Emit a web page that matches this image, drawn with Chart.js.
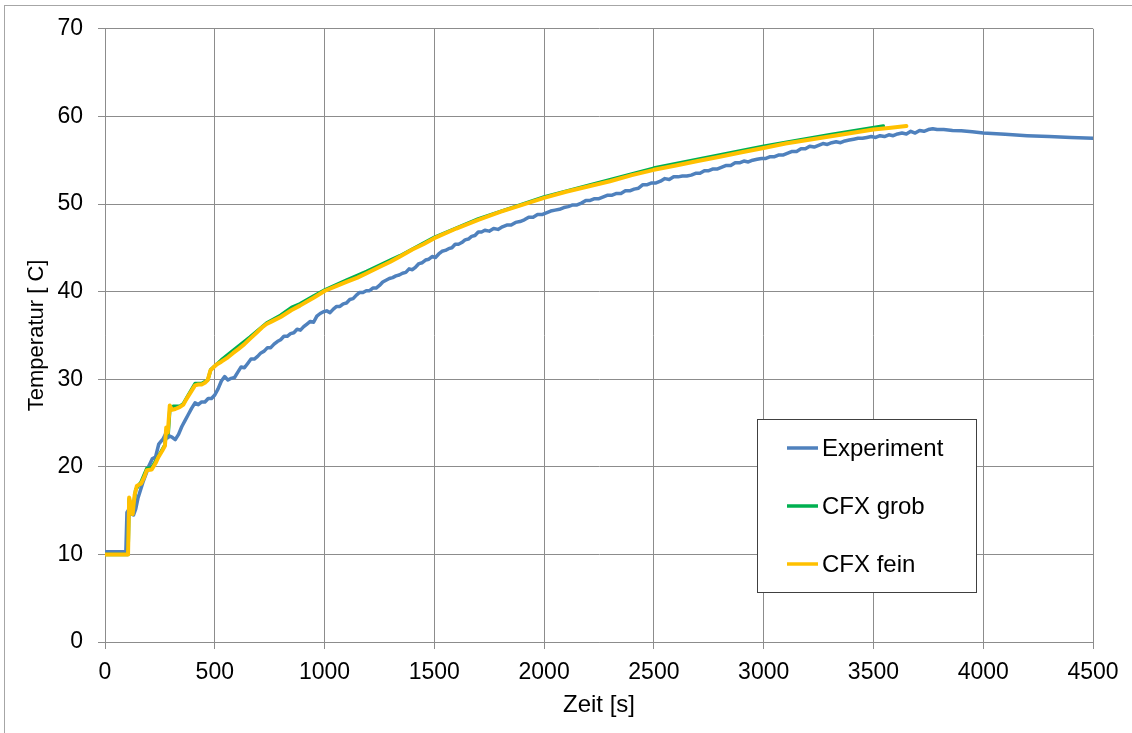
<!DOCTYPE html>
<html>
<head>
<meta charset="utf-8">
<title>Temperaturverlauf</title>
<script src="https://cdn.jsdelivr.net/npm/chart.js@4.4.1/dist/chart.umd.min.js"></script>
<style>
  html, body { margin: 0; padding: 0; background: #fff; overflow: hidden; }
  #frame {
    position: absolute; left: 4px; top: 5px;
    width: 1200px; height: 800px;
    border: 1px solid #a6a6a6;
  }
  #wrap { position: absolute; left: 0; top: 0; width: 1132px; height: 733px; }
</style>
</head>
<body>
<div id="frame"></div>
<div id="wrap"><canvas id="tempChart" width="1132" height="733"></canvas></div>
<script>
// Messung (Thermoelement)
const expTime = [0, 95, 100, 110, 120, 130, 140, 150, 160, 175, 190, 200, 215, 230, 245, 255, 265, 275, 285, 295,
  305, 320, 335, 350, 365, 380, 395, 410, 425, 440, 455, 470, 485, 500, 515, 530, 545, 560, 575, 590,
  605, 620, 635, 650, 665, 680, 695, 710, 725, 740, 755, 770, 785, 800, 815, 830, 845, 860, 875, 890,
  905, 920, 935, 950, 965, 980, 995, 1010, 1025, 1040, 1055, 1070, 1085, 1100, 1115, 1130, 1145, 1160, 1175, 1190,
  1205, 1220, 1235, 1250, 1265, 1280, 1295, 1310, 1325, 1340, 1355, 1370, 1385, 1400, 1415, 1430, 1445, 1460, 1475, 1490,
  1505, 1520, 1535, 1550, 1565, 1580, 1595, 1610, 1625, 1640, 1655, 1670, 1685, 1700, 1715, 1730, 1750, 1770, 1790, 1810,
  1830, 1850, 1870, 1890, 1910, 1930, 1950, 1970, 1990, 2010, 2030, 2050, 2070, 2090, 2110, 2130, 2150, 2170, 2190, 2210,
  2230, 2250, 2270, 2290, 2310, 2330, 2350, 2370, 2390, 2410, 2430, 2450, 2470, 2490, 2510, 2530, 2550, 2570, 2590, 2610,
  2630, 2650, 2670, 2690, 2710, 2730, 2750, 2770, 2790, 2810, 2830, 2850, 2870, 2890, 2910, 2930, 2950, 2970, 2990, 3010,
  3030, 3050, 3070, 3090, 3110, 3130, 3150, 3170, 3190, 3210, 3230, 3250, 3270, 3290, 3310, 3330, 3350, 3370, 3390, 3410,
  3430, 3450, 3470, 3490, 3510, 3530, 3550, 3570, 3590, 3610, 3630, 3650, 3670, 3690, 3710, 3730, 3750, 3770, 3790, 3820,
  3860, 3900, 3950, 4000, 4100, 4200, 4300, 4400, 4500];
const expTemp = [10.3, 10.3, 14.8, 15.2, 14.6, 14.5, 15.2, 16.4, 17.2, 18.4, 19.4, 20.1, 20.9, 21.1, 22.6, 22.9, 23.2, 23.7, 23.3, 23.5,
  23.4, 23.1, 23.7, 24.6, 25.3, 26.0, 26.7, 27.3, 27.1, 27.4, 27.4, 27.8, 27.8, 28.2, 28.9, 29.8, 30.3, 29.9, 30.1, 30.2,
  30.8, 31.4, 31.3, 31.8, 32.3, 32.3, 32.6, 33.0, 33.2, 33.6, 33.6, 34.0, 34.3, 34.5, 34.9, 34.9, 35.2, 35.3, 35.7, 35.6,
  36.0, 36.3, 36.6, 36.5, 37.2, 37.5, 37.7, 37.8, 37.6, 38.0, 38.3, 38.3, 38.6, 38.7, 39.1, 39.2, 39.6, 39.9, 39.9, 40.1,
  40.1, 40.4, 40.4, 40.7, 41.1, 41.3, 41.5, 41.6, 41.8, 41.9, 42.1, 42.2, 42.6, 42.5, 42.8, 43.2, 43.3, 43.6, 43.7, 44.0,
  43.9, 44.3, 44.6, 44.7, 44.9, 45.0, 45.4, 45.4, 45.6, 45.9, 46.0, 46.3, 46.4, 46.8, 46.8, 47.0, 46.9, 47.2, 47.1, 47.4,
  47.6, 47.6, 47.9, 48.0, 48.2, 48.5, 48.5, 48.8, 48.8, 49.0, 49.2, 49.3, 49.4, 49.6, 49.7, 49.9, 49.9, 50.1, 50.4, 50.4,
  50.6, 50.6, 50.8, 51.0, 51.0, 51.2, 51.2, 51.5, 51.5, 51.7, 51.8, 52.2, 52.2, 52.4, 52.4, 52.6, 52.9, 52.8, 53.1, 53.1,
  53.2, 53.2, 53.3, 53.5, 53.5, 53.8, 53.8, 54.0, 54.0, 54.2, 54.4, 54.4, 54.7, 54.7, 54.9, 54.8, 55.0, 55.1, 55.2, 55.2,
  55.4, 55.4, 55.6, 55.6, 55.8, 56.0, 56.0, 56.3, 56.3, 56.6, 56.5, 56.7, 56.9, 56.8, 57.0, 57.1, 57.0, 57.2, 57.3, 57.4,
  57.5, 57.5, 57.6, 57.7, 57.6, 57.8, 57.7, 57.9, 57.8, 58.0, 58.1, 58.0, 58.3, 58.1, 58.4, 58.3, 58.5, 58.6, 58.5, 58.5,
  58.4, 58.35, 58.25, 58.1, 57.95, 57.8, 57.7, 57.6, 57.5];

// Simulation, grobes Netz
const coarseTime = [0, 105, 110, 126, 140, 165, 190, 213, 243, 273, 280, 288, 296, 310, 340, 357, 380, 410, 440, 468,
  482, 500, 530, 584, 660, 736, 800, 850, 888, 950, 1002, 1100, 1192, 1300, 1344, 1500, 1700, 2000, 2500, 3000,
  3300, 3545];
const coarseTemp = [10.0, 10.0, 16.3, 14.8, 17.4, 18.3, 19.8, 19.9, 21.2, 22.5, 24.2, 23.8, 26.8, 26.9, 26.9, 27.2, 28.2, 29.5, 29.5, 29.9,
  31.1, 31.5, 32.2, 33.3, 34.8, 36.4, 37.3, 38.2, 38.6, 39.5, 40.2, 41.3, 42.3, 43.6, 44.1, 46.2, 48.3, 50.8, 54.1, 56.6,
  57.9, 58.9];

// Simulation, feines Netz
const fineTime = [0, 105, 110, 118, 126, 135, 145, 165, 180, 190, 213, 230, 243, 260, 273, 279, 286, 295, 305, 320,
  340, 357, 370, 380, 395, 410, 425, 440, 455, 468, 480, 492, 510, 530, 560, 584, 610, 635, 660, 690,
  715, 736, 760, 800, 850, 888, 950, 1002, 1050, 1100, 1150, 1192, 1250, 1300, 1344, 1400, 1450, 1500, 1600, 1700,
  1800, 1900, 2000, 2100, 2200, 2300, 2400, 2500, 2600, 2700, 2800, 2900, 3000, 3100, 3200, 3300, 3400, 3500, 3580, 3650];
const fineTemp = [10.0, 10.0, 16.5, 15.6, 14.6, 16.8, 17.8, 18.1, 18.9, 19.6, 19.7, 20.4, 21.1, 21.8, 22.4, 24.5, 23.9, 27.0, 26.5, 26.6,
  26.8, 27.1, 27.7, 28.1, 28.7, 29.3, 29.4, 29.4, 29.6, 29.9, 31.0, 31.3, 31.7, 32.0, 32.5, 33.0, 33.5, 34.0, 34.6, 35.3,
  35.9, 36.3, 36.6, 37.1, 37.9, 38.4, 39.3, 40.1, 40.6, 41.1, 41.6, 42.1, 42.8, 43.4, 44.0, 44.8, 45.4, 46.1, 47.2, 48.2,
  49.1, 49.9, 50.7, 51.4, 52.0, 52.6, 53.3, 53.9, 54.4, 54.9, 55.4, 55.9, 56.4, 56.9, 57.3, 57.7, 58.1, 58.5, 58.7, 58.9];

const seriesLabels = ['Experiment', 'CFX grob', 'CFX fein'];
const seriesColors = ['#4f81bd', '#00b050', '#ffc000'];

const xTicks = { min: 0, max: 4500, step: 500 };
const yTicks = { min: 0, max: 70, step: 10 };

const FONT = 'Liberation Sans, Arial, sans-serif';
const GRID = '#8c8c8c';

function toPoints(xs, ys) {
  return xs.map((x, i) => ({ x: x, y: ys[i] }));
}

// Legende als Kasten innerhalb der Zeichenfläche
const boxLegend = {
  id: 'boxLegend',
  afterDraw(chart) {
    const ctx = chart.ctx;
    const left = 757, top = 419, w = 219, h = 173;
    ctx.save();
    ctx.fillStyle = '#ffffff';
    ctx.fillRect(left, top, w, h);
    ctx.strokeStyle = '#404040';
    ctx.lineWidth = 1;
    ctx.strokeRect(left + 0.5, top + 0.5, w, h);
    ctx.font = '24px ' + FONT;
    ctx.textBaseline = 'middle';
    ctx.fillStyle = '#000';
    chart.data.datasets.forEach((ds, i) => {
      const y = top + 29 + i * 58;
      ctx.strokeStyle = ds.borderColor;
      ctx.lineWidth = 3.5;
      ctx.beginPath();
      ctx.moveTo(787, y);
      ctx.lineTo(818, y);
      ctx.stroke();
      ctx.fillText(ds.label, 822, y + 1);
    });
    ctx.restore();
  }
};

new Chart(document.getElementById('tempChart'), {
  type: 'line',
  data: {
    datasets: [
      { label: seriesLabels[0], data: toPoints(expTime, expTemp), borderColor: seriesColors[0], borderWidth: 3.5, order: 3 },
      { label: seriesLabels[1], data: toPoints(coarseTime, coarseTemp), borderColor: seriesColors[1], borderWidth: 3.5, order: 2 },
      { label: seriesLabels[2], data: toPoints(fineTime, fineTemp), borderColor: seriesColors[2], borderWidth: 4, order: 1 }
    ]
  },
  options: {
    responsive: false,
    animation: false,
    devicePixelRatio: 1,
    layout: { padding: { top: 27, right: 39, left: 0, bottom: 0 } },
    elements: { point: { radius: 0 }, line: { tension: 0, borderCapStyle: 'round', borderJoinStyle: 'round' } },
    plugins: { legend: { display: false }, tooltip: { enabled: false } },
    scales: {
      x: {
        type: 'linear',
        min: xTicks.min, max: xTicks.max,
        ticks: { stepSize: xTicks.step, color: '#000', font: { family: FONT, size: 23 }, padding: 10, maxRotation: 0,
                 callback: v => String(v) },
        grid: { color: GRID, tickLength: 7, tickColor: GRID },
        border: { color: GRID },
        title: { display: true, text: 'Zeit [s]', color: '#000', font: { family: FONT, size: 24 }, padding: { top: 0, bottom: 13 } },
        afterFit(scale) { scale.height = 91; }
      },
      y: {
        min: yTicks.min, max: yTicks.max,
        ticks: { stepSize: yTicks.step, color: '#000', font: { family: FONT, size: 23 }, padding: 15 },
        grid: { color: GRID, tickLength: 7, tickColor: GRID },
        border: { color: GRID },
        title: { display: true, text: 'Temperatur [ C]', color: '#000', font: { family: FONT, size: 22 }, padding: { top: 24, bottom: 0 } },
        afterFit(scale) { scale.width = 105; }
      }
    }
  },
  plugins: [boxLegend]
});
</script>
</body>
</html>
